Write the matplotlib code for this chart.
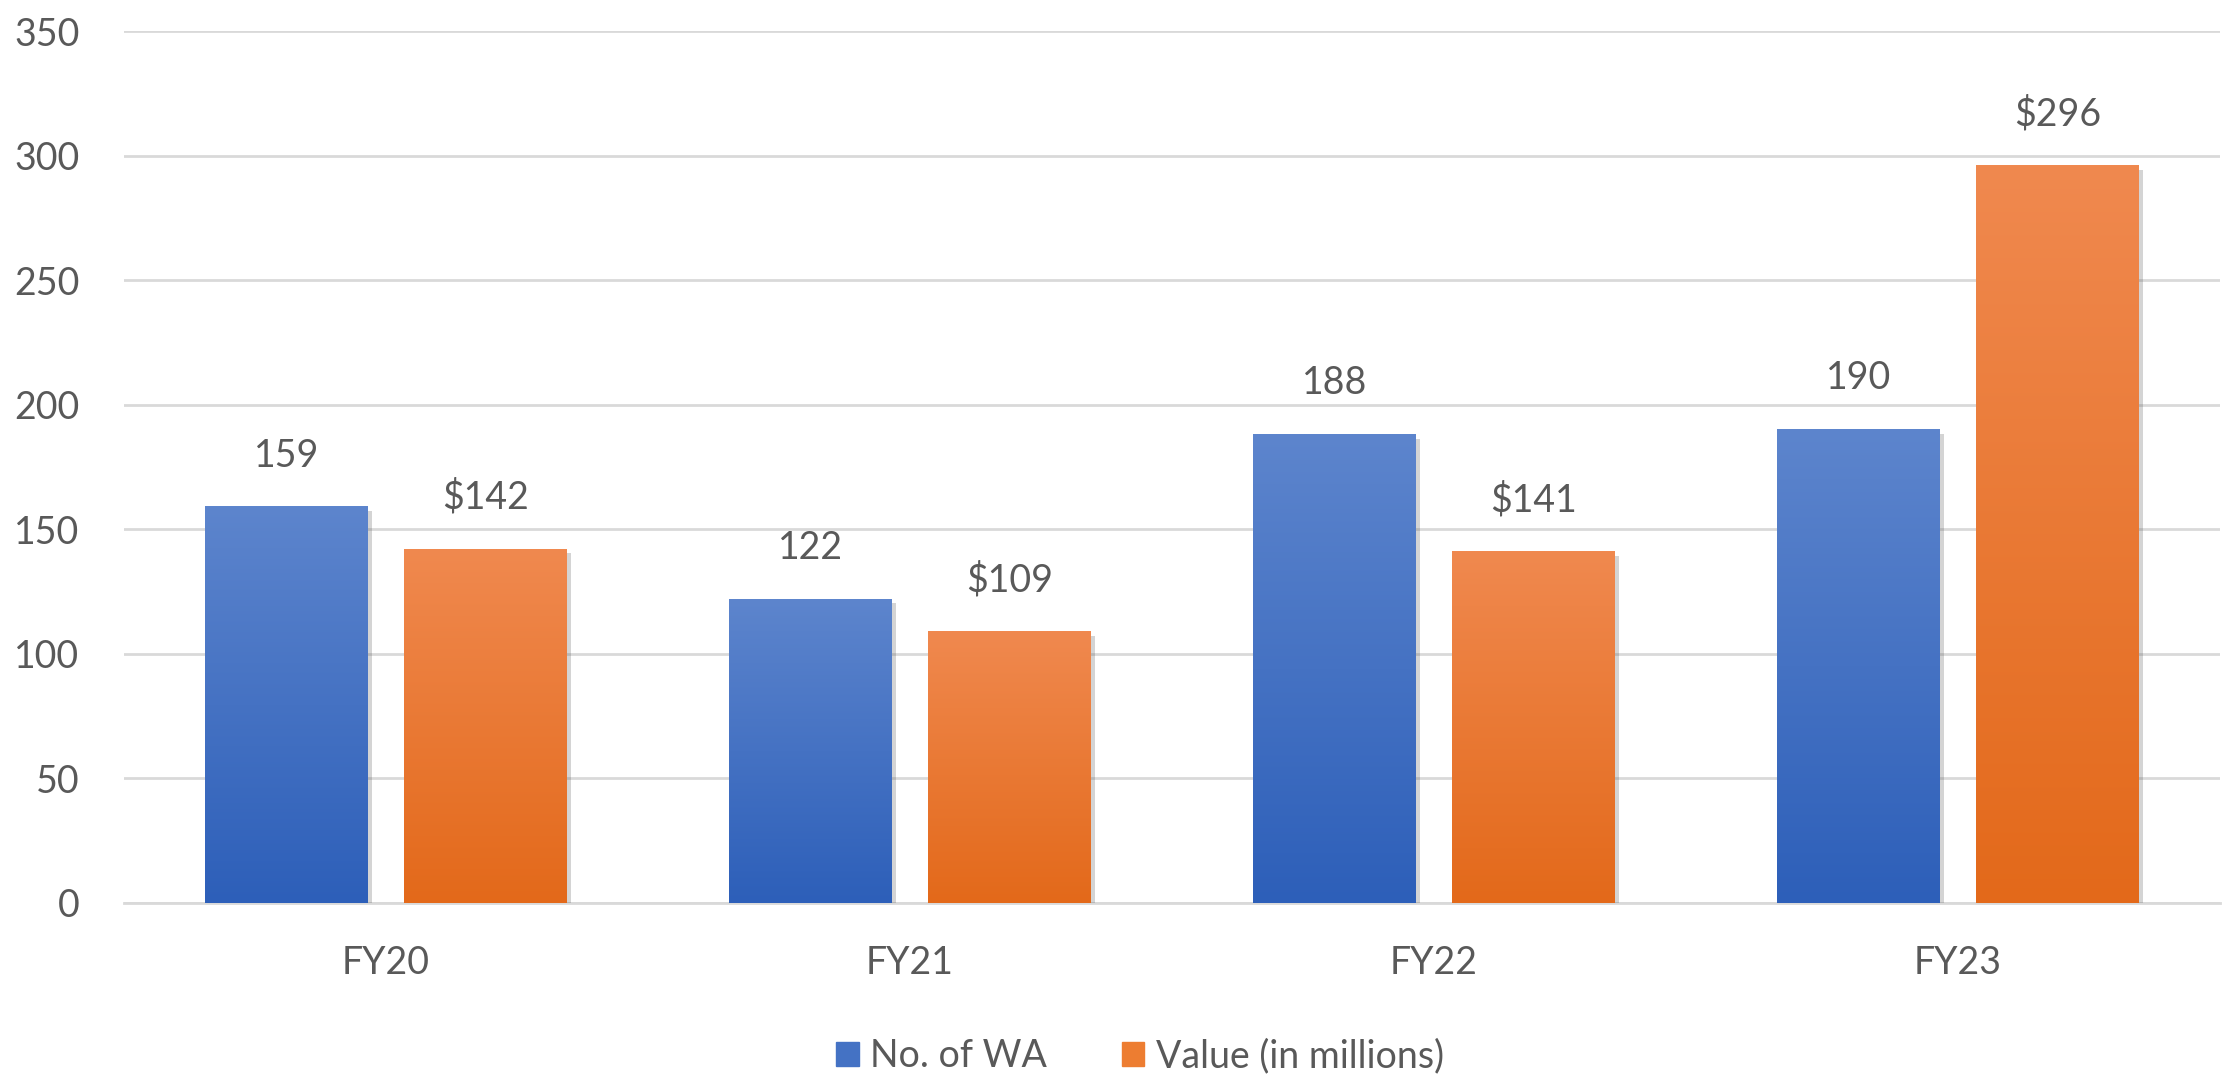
import numpy as np
import matplotlib
matplotlib.use("Agg")
import matplotlib.pyplot as plt
import matplotlib.patheffects as pe
from matplotlib.colors import LinearSegmentedColormap
from matplotlib.patches import Patch

categories = ["FY20", "FY21", "FY22", "FY23"]
wa_count = [159, 122, 188, 190]
value_millions = [142, 109, 141, 296]
series_names = ["No. of WA", "Value (in millions)"]

plt.rcParams['font.family'] = ['Lato', 'DejaVu Sans']
txt = '#595959'

fig = plt.figure(figsize=(22.22, 10.81), dpi=100)
ax = fig.add_axes([0.0558, 0.1647, 0.9432, 0.8066])

x = np.arange(len(categories))
w = 0.31
off = 0.19

blue_cm = LinearSegmentedColormap.from_list('b', ['#2D5FB9', '#5D85CD'])
orange_cm = LinearSegmentedColormap.from_list('o', ['#E3691A', '#F0894F'])
shadow = [pe.SimplePatchShadow(offset=(3, -3), shadow_rgbFace='#555555', alpha=0.25), pe.Normal()]

b1 = ax.bar(x - off, wa_count, w, color='#4472C4', zorder=3, path_effects=shadow)
b2 = ax.bar(x + off, value_millions, w, color='#ED7D31', zorder=3, path_effects=shadow)

grad = np.linspace(0, 1, 256).reshape(-1, 1)
for bars, cm in [(b1, blue_cm), (b2, orange_cm)]:
    for r in bars:
        x0, h = r.get_x(), r.get_height()
        ax.imshow(grad, extent=[x0, x0 + r.get_width(), 0, h], origin='lower',
                  aspect='auto', cmap=cm, zorder=4)

for xi, v in zip(x - off, wa_count):
    ax.annotate(str(v), (xi, v), xytext=(0, 24), textcoords='offset points',
                ha='center', va='bottom', fontsize=27, color=txt)
for xi, v in zip(x + off, value_millions):
    ax.annotate(f"${v}", (xi, v), xytext=(0, 24), textcoords='offset points',
                ha='center', va='bottom', fontsize=27, color=txt)

ax.set_xlim(-0.5, 3.5)
ax.set_ylim(0, 350)
ax.set_yticks(range(0, 351, 50))
ax.set_xticks(x)
ax.set_xticklabels(categories)
ax.tick_params(length=0, labelsize=27, colors=txt)
ax.tick_params(axis='x', pad=30)
ax.tick_params(axis='y', pad=32)
ax.grid(axis='y', color='#D9D9D9', linewidth=2, zorder=0)
ax.set_axisbelow(True)
for s in ['top', 'right', 'left']:
    ax.spines[s].set_visible(False)
ax.spines['bottom'].set_color('#D9D9D9')
ax.spines['bottom'].set_linewidth(2)

handles = [Patch(color='#4472C4'), Patch(color='#ED7D31')]
fig.legend(handles, series_names, loc='center', bbox_to_anchor=(0.513, 0.023),
           ncol=2, frameon=False, fontsize=27, labelcolor=txt,
           handlelength=0.6, handleheight=0.6, handletextpad=0.3, columnspacing=2.0)

fig.savefig('out.png', dpi=100)
